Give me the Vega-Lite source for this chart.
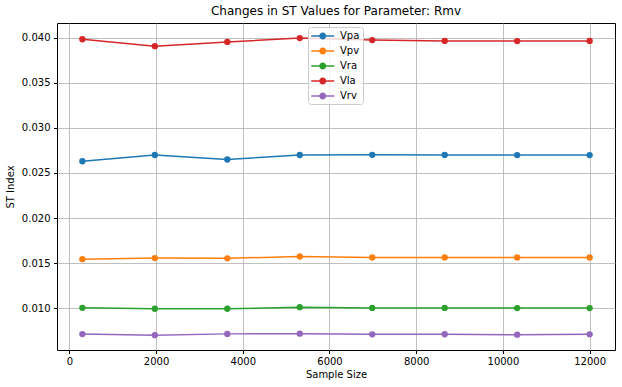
{
  "$schema": "https://vega.github.io/schema/vega-lite/v6.json",
  "autosize": "none",
  "width": 558,
  "height": 327,
  "padding": {"left": 57, "top": 23, "right": 7, "bottom": 37},
  "background": "white",
  "title": {"text": "Changes in ST Values for Parameter: Rmv", "font": "DejaVu Sans", "fontSize": 12, "fontWeight": "normal", "color": "black", "anchor": "middle", "offset": 5},
  "config": {
    "view": {"stroke": "black", "strokeWidth": 1},
    "axis": {"labelFont": "DejaVu Sans", "titleFont": "DejaVu Sans", "labelFontSize": 10, "titleFontSize": 10, "titleFontWeight": "normal", "labelColor": "black", "titleColor": "black", "tickColor": "black", "tickSize": 3.5, "domain": false, "gridColor": "#b0b0b0", "gridWidth": 0.8, "gridOpacity": 1}
  },
  "data": {"values": [
    {"n": 300, "s": "Vpa", "v": 0.0263},
    {"n": 1971.43, "s": "Vpa", "v": 0.0270},
    {"n": 3642.86, "s": "Vpa", "v": 0.0265},
    {"n": 5314.29, "s": "Vpa", "v": 0.0270},
    {"n": 6985.71, "s": "Vpa", "v": 0.02702},
    {"n": 8657.14, "s": "Vpa", "v": 0.02701},
    {"n": 10328.57, "s": "Vpa", "v": 0.02699},
    {"n": 12000, "s": "Vpa", "v": 0.02699},
    {"n": 300, "s": "Vpv", "v": 0.01543},
    {"n": 1971.43, "s": "Vpv", "v": 0.01555},
    {"n": 3642.86, "s": "Vpv", "v": 0.01553},
    {"n": 5314.29, "s": "Vpv", "v": 0.01573},
    {"n": 6985.71, "s": "Vpv", "v": 0.01562},
    {"n": 8657.14, "s": "Vpv", "v": 0.01563},
    {"n": 10328.57, "s": "Vpv", "v": 0.01562},
    {"n": 12000, "s": "Vpv", "v": 0.01562},
    {"n": 300, "s": "Vra", "v": 0.01003},
    {"n": 1971.43, "s": "Vra", "v": 0.00993},
    {"n": 3642.86, "s": "Vra", "v": 0.00993},
    {"n": 5314.29, "s": "Vra", "v": 0.0101},
    {"n": 6985.71, "s": "Vra", "v": 0.01002},
    {"n": 8657.14, "s": "Vra", "v": 0.01002},
    {"n": 10328.57, "s": "Vra", "v": 0.01},
    {"n": 12000, "s": "Vra", "v": 0.01},
    {"n": 300, "s": "Vla", "v": 0.03985},
    {"n": 1971.43, "s": "Vla", "v": 0.03908},
    {"n": 3642.86, "s": "Vla", "v": 0.03955},
    {"n": 5314.29, "s": "Vla", "v": 0.03998},
    {"n": 6985.71, "s": "Vla", "v": 0.03975},
    {"n": 8657.14, "s": "Vla", "v": 0.03966},
    {"n": 10328.57, "s": "Vla", "v": 0.03964},
    {"n": 12000, "s": "Vla", "v": 0.03966},
    {"n": 300, "s": "Vrv", "v": 0.00712},
    {"n": 1971.43, "s": "Vrv", "v": 0.00700},
    {"n": 3642.86, "s": "Vrv", "v": 0.00714},
    {"n": 5314.29, "s": "Vrv", "v": 0.00716},
    {"n": 6985.71, "s": "Vrv", "v": 0.00709},
    {"n": 8657.14, "s": "Vrv", "v": 0.0071},
    {"n": 10328.57, "s": "Vrv", "v": 0.00705},
    {"n": 12000, "s": "Vrv", "v": 0.00709}
  ]},
  "encoding": {
    "x": {"field": "n", "type": "quantitative", "title": "Sample Size", "scale": {"domain": [-285, 12585], "nice": false, "zero": false},
      "axis": {"values": [0, 2000, 4000, 6000, 8000, 10000, 12000], "format": "d", "labelPadding": 2.5, "titlePadding": 3}},
    "y": {"field": "v", "type": "quantitative", "title": "ST Index", "scale": {"domain": [0.00535, 0.04165], "nice": false, "zero": false},
      "axis": {"values": [0.010, 0.015, 0.020, 0.025, 0.030, 0.035, 0.040], "format": ".3f", "labelPadding": 3.5, "titlePadding": 6}},
    "color": {"field": "s", "type": "nominal", "title": null,
      "scale": {"domain": ["Vpa", "Vpv", "Vra", "Vla", "Vrv"], "range": ["#1f77b4", "#ff7f0e", "#2ca02c", "#d62728", "#9467bd"]},
      "legend": {"orient": "none", "legendX": 251, "legendY": 4, "symbolType": "M-1,-0.13H3V0.13H-1Z M1.6,0A0.6,0.6 0 1,1 0.4,0A0.6,0.6 0 1,1 1.6,0Z", "symbolSize": 132, "symbolStrokeWidth": 0, "symbolOpacity": 1, "labelFont": "DejaVu Sans", "labelFontSize": 10, "labelColor": "black", "rowPadding": 4, "labelOffset": 17, "padding": 3, "fillColor": "rgba(255,255,255,0.8)", "strokeColor": "#cccccc", "cornerRadius": 3}}
  },
  "layer": [
    {"mark": {"type": "line", "strokeWidth": 1.5}},
    {"mark": {"type": "circle", "size": 40, "opacity": 1}}
  ]
}
